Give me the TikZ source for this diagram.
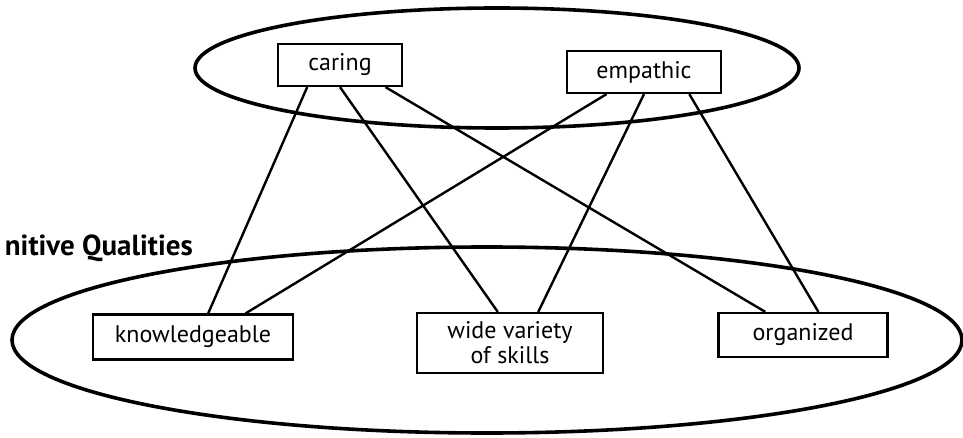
\documentclass[tikz,border=0pt]{standalone}
\usepackage{fontspec}
\setmainfont{PT Sans}
\usetikzlibrary{positioning,calc}

\begin{document}
\begin{tikzpicture}[x=1pt, y=-1pt, every node/.style={font=\fontsize{24}{25}\selectfont},
    qualbox/.style={draw, line width=2.2pt, minimum height=42pt, inner sep=2pt, align=center},
    link/.style={line width=2.4pt},
    ring/.style={line width=3.6pt}]
    \useasboundingbox (0,0) rectangle (963,438);
    % groups
    \draw[ring] (497,68) ellipse [x radius=302, y radius=60];
    \draw[ring] (487,340) ellipse [x radius=475, y radius=93];
    \node[anchor=east, inner sep=0pt, font=\fontsize{29}{31}\selectfont\bfseries] (title) at (193,248) {nitive Qualities};
    % qualities
    \node[qualbox, minimum width=124pt] (caring) at (340,65) {caring};
    \node[qualbox, minimum width=154pt] (emp) at (644,72) {empathic};
    \node[qualbox, minimum width=200pt, minimum height=45pt] (know) at (193,337) {knowledgeable};
    \node[qualbox, minimum width=186pt, minimum height=60pt] (wide) at (510,343) {wide variety\\of skills};
    \node[qualbox, minimum width=169pt, minimum height=44pt] (org) at (803,335) {organized};
    % links
    \foreach \a/\p/\b/\q in {caring/0.24/know/0.575, caring/0.5/wide/0.435, caring/0.86/org/0.28,
                             emp/0.26/know/0.76, emp/0.5/wide/0.65, emp/0.79/org/0.59}
      \draw[link] ($(\a.south west)!\p!(\a.south east)$) -- ($(\b.north west)!\q!(\b.north east)$);
\end{tikzpicture}
\end{document}
